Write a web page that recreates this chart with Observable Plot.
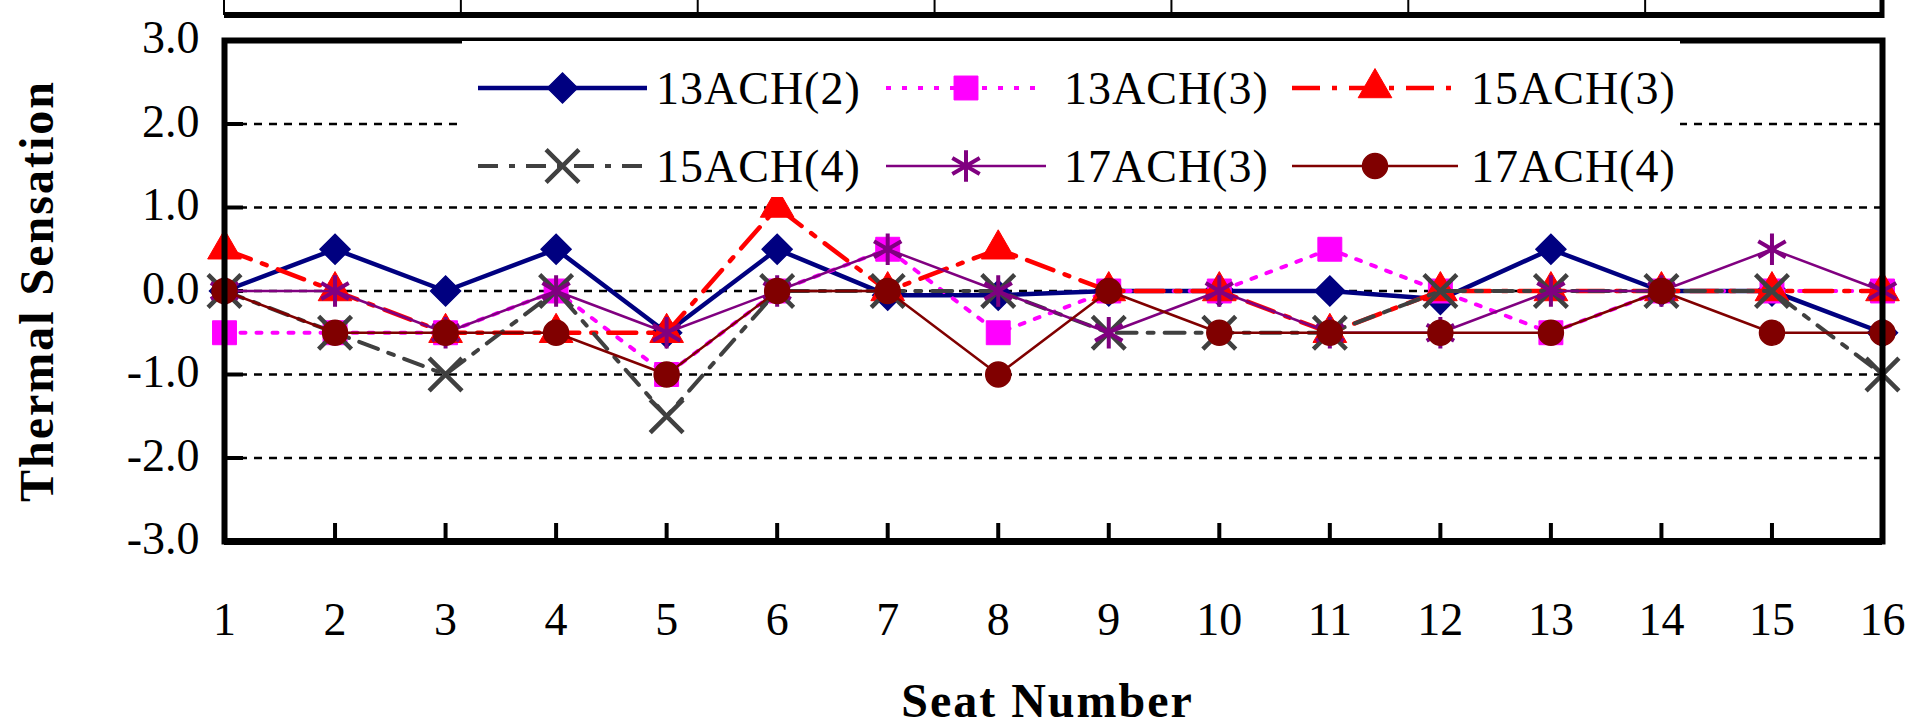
<!DOCTYPE html>
<html>
<head>
<meta charset="utf-8">
<script src="https://cdn.jsdelivr.net/npm/d3@7"></script>
<script src="https://cdn.jsdelivr.net/npm/@observablehq/plot@0.6"></script>
<style>
  html, body { margin: 0; padding: 0; background: #fff; }
  #chart { width: 1915px; height: 728px; overflow: hidden; }
</style>
</head>
<body>
<div id="chart"></div>
<script>
// ---- data ----
const seats = [1, 2, 3, 4, 5, 6, 7, 8, 9, 10, 11, 12, 13, 14, 15, 16];
const seriesNames = ["13ACH(2)", "13ACH(3)", "15ACH(3)", "15ACH(4)", "17ACH(3)", "17ACH(4)"];
const ach13_2 = [0, 0.5, 0, 0.5, -0.5, 0.5, -0.05, -0.05, 0, 0, 0, -0.1, 0.5, 0, 0, -0.5];
const ach13_3 = [-0.5, -0.5, -0.5, 0, -1.0, 0, 0.5, -0.5, 0, 0, 0.5, 0, -0.5, 0, 0, 0];
const ach15_3 = [0.5, 0, -0.5, -0.5, -0.5, 1.0, 0, 0.5, 0, 0, -0.5, 0, 0, 0, 0, 0];
const ach15_4 = [0, -0.5, -1.0, 0, -1.5, 0, 0, 0, -0.5, -0.5, -0.5, 0, 0, 0, 0, -1.0];
const ach17_3 = [0, 0, -0.5, 0, -0.5, 0, 0.5, 0, -0.5, 0, -0.5, -0.5, 0, 0, 0.5, 0];
const ach17_4 = [0, -0.5, -0.5, -0.5, -1.0, 0, 0, -1.0, 0, -0.5, -0.5, -0.5, -0.5, 0, -0.5, -0.5];
const yTicks = [-3, -2, -1, 0, 1, 2, 3];
const gridValues = [-2, -1, 0, 1, 2];
const xLabel = "Seat Number";
const yLabel = "Thermal Sensation";

// ---- styles (kept apart from data) ----
const seriesValues = [ach13_2, ach13_3, ach15_3, ach15_4, ach17_3, ach17_4];
const styles = [
  {color: "#000080", width: 4.5, dash: null,           symbol: "diamond2", r: 13.5, fill: "#000080", sw: 1.5},
  {color: "#FF00FF", width: 4,   dash: "5,11",         symbol: "square",   r: 13.5, fill: "#FF00FF", sw: 1},
  {color: "#FF0000", width: 4.5, dash: "28,12,5,12",   symbol: "triangle", r: 12.5, fill: "#FF0000", sw: 1},
  {color: "#404040", width: 4,   dash: "20,11,6,11",   symbol: "times",    r: 15,   fill: "none",    sw: 4.5},
  {color: "#800080", width: 2.5, dash: null,           symbol: "asterisk", r: 15,   fill: "none",    sw: 4},
  {color: "#800000", width: 2.5, dash: null,           symbol: "circle",   r: 12.5, fill: "#800000", sw: 1.5}
];
const d3Symbols = {
  diamond2: d3.symbolDiamond2, square: d3.symbolSquare, triangle: d3.symbolTriangle,
  times: d3.symbolTimes, asterisk: d3.symbolAsterisk, circle: d3.symbolCircle
};

const W = 1915, H = 728;
const fontFamily = "'Liberation Serif', 'Times New Roman', serif";

const marks = [];
// gridlines
marks.push(Plot.ruleY(gridValues, {stroke: "black", strokeWidth: 2.5, strokeDasharray: "8,7"}));
// axes: inner ticks and labels
marks.push(Plot.axisY(gridValues, {tickSize: -19, strokeWidth: 4, tickFormat: () => "", label: null}));
marks.push(Plot.axisY(yTicks, {tickSize: 0, tickPadding: 25, dy: -2, tickFormat: d => d.toFixed(1), label: null, fontSize: 46}));
marks.push(Plot.axisX(seats.slice(1, -1), {tickSize: -18, strokeWidth: 4, tickFormat: () => "", label: null}));
marks.push(Plot.axisX(seats, {tickSize: 0, tickPadding: 61, tickFormat: d => String(d), label: null, fontSize: 46}));
// series
seriesValues.forEach((vals, i) => {
  const st = styles[i];
  const rows = seats.map((s, j) => ({seat: s, value: vals[j], series: seriesNames[i]}));
  marks.push(Plot.line(rows, {x: "seat", y: "value", stroke: st.color, strokeWidth: st.width,
    strokeDasharray: st.dash || undefined, strokeLinejoin: "round"}));
  marks.push(Plot.dot(rows, {x: "seat", y: "value", symbol: st.symbol, r: st.r,
    fill: st.fill, stroke: st.color, strokeWidth: st.sw}));
});
// frame
marks.push(Plot.frame({stroke: "black", strokeWidth: 6}));
marks.push(Plot.ruleY([-3], {stroke: "black", strokeWidth: 7}));
// axis titles
marks.push(Plot.text([yLabel], {frameAnchor: "left", dx: -187, rotate: -90, textAnchor: "middle", lineAnchor: "middle",
  fontSize: 48, fontWeight: "bold", text: d => d}));
marks.push(Plot.text([xLabel], {frameAnchor: "bottom", dy: 160, dx: -6, textAnchor: "middle", lineAnchor: "middle",
  fontSize: 48, fontWeight: "bold", text: d => d}));

const plot = Plot.plot({
  width: W, height: H,
  marginLeft: 224, marginRight: 33, marginTop: 40, marginBottom: 187,
  x: {type: "linear", domain: [1, 16]},
  y: {domain: [-3, 3]},
  style: {fontFamily, fontSize: "46px", background: "white", color: "black", overflow: "visible"},
  marks
});
document.getElementById("chart").appendChild(plot);

const svg = d3.select(plot);
svg.selectAll("text").filter(function () { return this.textContent === yLabel || this.textContent === xLabel; })
  .style("letter-spacing", "2px");

// ---- cropped table strip above the frame ----
const xs = plot.scale("x");
const left = xs.apply(seats[0]), right = xs.apply(seats[seats.length - 1]);
const strip = svg.append("g");
strip.append("line").attr("x1", left).attr("x2", right).attr("y1", 15).attr("y2", 15)
  .attr("stroke", "black").attr("stroke-width", 6);
strip.append("line").attr("x1", left).attr("x2", left).attr("y1", 0).attr("y2", 15)
  .attr("stroke", "black").attr("stroke-width", 2);
strip.append("line").attr("x1", right).attr("x2", right).attr("y1", 0).attr("y2", 18)
  .attr("stroke", "black").attr("stroke-width", 5);
for (let k = 1; k < 7; k++) {
  const xk = left + (right - left) * k / 7;
  strip.append("line").attr("x1", xk).attr("x2", xk).attr("y1", 0).attr("y2", 15)
    .attr("stroke", "black").attr("stroke-width", 2);
}

// ---- legend ----
const legend = svg.append("g");
legend.append("rect").attr("x", 462).attr("y", 41).attr("width", 1680 - 462).attr("height", 156).attr("fill", "white");
const cols = [{x0: 478, x1: 647, tx: 656}, {x0: 886, x1: 1046, tx: 1064}, {x0: 1292, x1: 1458, tx: 1471}];
const rowY = [88, 166];
seriesNames.forEach((name, i) => {
  const c = cols[i % 3], y = rowY[Math.floor(i / 3)], st = styles[i];
  const ln = legend.append("line").attr("x1", c.x0).attr("x2", c.x1).attr("y1", y).attr("y2", y)
    .attr("stroke", st.color).attr("stroke-width", st.width);
  if (st.dash) ln.attr("stroke-dasharray", st.dash);
  legend.append("path")
    .attr("d", d3.symbol(d3Symbols[st.symbol], st.r * st.r * Math.PI)())
    .attr("transform", `translate(${(c.x0 + c.x1) / 2},${y})`)
    .attr("fill", st.fill).attr("stroke", st.color).attr("stroke-width", st.sw);
  legend.append("text").attr("x", c.tx).attr("y", y).attr("dy", "0.35em")
    .attr("text-anchor", "start").attr("letter-spacing", "1px")
    .attr("font-family", fontFamily).attr("font-size", 46).attr("fill", "black").text(name);
});
</script>
</body>
</html>
